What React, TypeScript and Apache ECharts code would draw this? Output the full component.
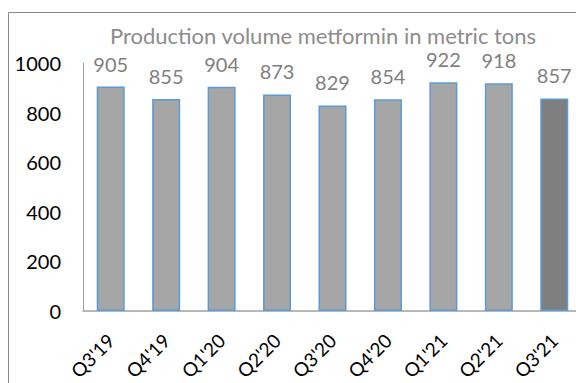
import React, { useEffect, useRef } from "react";
import * as echarts from "echarts";

const categories = ["Q3'19", "Q4'19", "Q1'20", "Q2'20", "Q3'20", "Q4'20", "Q1'21", "Q2'21", "Q3'21"];
const values = [905, 855, 904, 873, 829, 854, 922, 918, 857];
const yTicks = [0, 200, 400, 600, 800, 1000];
const titleText = "Production volume metformin in metric tons";

export default function App() {
  const ref = useRef<HTMLDivElement>(null);
  useEffect(() => {
    if (!ref.current) return;
    const chart = echarts.init(ref.current, null, { renderer: "svg" });
    const font = "Lato";
    chart.setOption({
      animation: false,
      backgroundColor: "#ffffff",
      title: {
        text: titleText,
        left: 318,
        textAlign: "center",
        top: 19,
        textStyle: { color: "#8c8c8c", fontSize: 22, fontWeight: "normal", fontFamily: font, lineHeight: 22 },
      },
      graphic: [
        {
          type: "rect",
          shape: { x: 8.5, y: 12.5, width: 700, height: 500 },
          style: { fill: "none", stroke: "#8a8a8a", lineWidth: 1 },
          silent: true,
        },
      ],
      grid: { left: 83, right: -6, top: 63, bottom: 72, containLabel: false, outerBoundsMode: "none" },
      xAxis: {
        type: "category",
        data: categories,
        axisLine: { show: true, lineStyle: { color: "#a0a0a0", width: 1.5 } },
        axisTick: { show: false },
        axisLabel: {
          rotate: 45,
          margin: 26,
          color: "#000000",
          fontSize: 19,
          fontFamily: font,
          interval: 0,
          lineHeight: 19,
        },
      },
      yAxis: {
        type: "value",
        min: 0,
        max: 1000,
        interval: 200,
        axisLine: { show: true, lineStyle: { color: "#a0a0a0", width: 1 } },
        axisTick: { show: false },
        splitLine: { show: false },
        axisLabel: {
          margin: 22,
          color: "#000000",
          fontSize: 20,
          fontFamily: font,
          customValues: yTicks,
          formatter: (v: number) => String(v),
        },
      },
      series: [
        {
          type: "bar",
          data: values.map((v, i) => ({
            value: v,
            itemStyle: { color: i === values.length - 1 ? "#7f7f7f" : "#a6a6a6" },
          })),
          barWidth: 28,
          itemStyle: { borderColor: "#5b9bd5", borderWidth: 1.5 },
          label: {
            show: true,
            position: "top",
            distance: 13,
            color: "#7f7f7f",
            fontSize: 20,
            fontFamily: font,
            lineHeight: 20,
          },
        },
      ],
    });
    return () => chart.dispose();
  }, []);
  return (
    <div
      ref={ref}
      style={{ position: "fixed", left: 0, top: 0, width: 576, height: 383 }}
    />
  );
}
